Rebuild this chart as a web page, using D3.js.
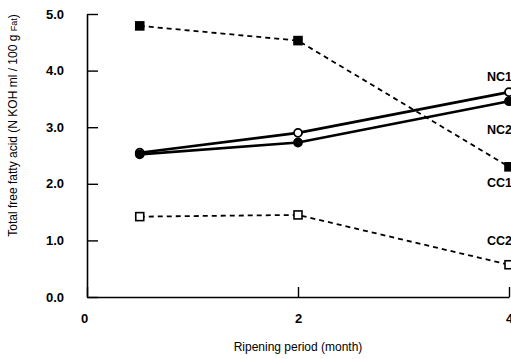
<html>
<head>
<script src="https://d3js.org/d3.v7.min.js"></script>
<style>
body { margin:0; background:#fff; }
text { font-family: "Liberation Sans", Arial, sans-serif; }
</style>
</head>
<body>
<script>
var width = 511;
var height = 359;
var margin = {top:14, right:2, bottom:62, left:87};
var w = width - margin.left - margin.right;
var h = height - margin.top - margin.bottom;

// data
var months = [0.5, 2, 4];
var NC1 = [2.55, 2.90, 3.62];
var NC2 = [2.52, 2.73, 3.46];
var CC1 = [4.79, 4.53, 2.30];
var CC2 = [1.42, 1.45, 0.57];
var xTicks = [0, 2, 4];
var yTicks = [0, 1, 2, 3, 4, 5];

var series = [
  {name:"NC1", values:NC1, dashed:false, marker:"circle", filled:false, labelY:81},
  {name:"NC2", values:NC2, dashed:false, marker:"circle", filled:true, labelY:134},
  {name:"CC1", values:CC1, dashed:true, marker:"square", filled:true, labelY:187},
  {name:"CC2", values:CC2, dashed:true, marker:"square", filled:false, labelY:245}
];

var x = d3.scaleLinear().domain([0,4]).range([0,w]);
var y = d3.scaleLinear().domain([0,5]).range([h,0]);

var svg = d3.select("body").append("svg")
    .attr("width", width)
    .attr("height", height)
  .append("g")
    .attr("transform", "translate(" + margin.left + "," + margin.top + ")");

// axes with inward ticks
var yAxis = svg.append("g")
    .call(d3.axisLeft(y).tickValues(yTicks).tickSizeInner(-11).tickSizeOuter(0)
      .tickPadding(23).tickFormat(d3.format(".1f")));
var xAxis = svg.append("g")
    .attr("transform", "translate(0," + h + ")")
    .call(d3.axisBottom(x).tickValues(xTicks).tickSizeInner(-10).tickSizeOuter(0)
      .tickPadding(17).tickFormat(d3.format("d")));
[yAxis, xAxis].forEach(function(a) {
  a.select(".domain").attr("stroke", "#000").attr("stroke-width", 1.6);
  a.selectAll(".tick line").attr("stroke", "#000").attr("stroke-width", 1.4);
  a.selectAll(".tick text").attr("fill", "#000")
    .style("font-size", "13px").style("font-weight", "bold")
    .style("font-family", "Liberation Sans, Arial, sans-serif");
});
xAxis.selectAll(".tick text").filter(function(d){ return d == 0; }).attr("dx", -3);

var line = d3.line()
    .x(function(d, i) { return x(months[i]); })
    .y(function(d) { return y(d); });

series.forEach(function(s) {
  svg.append("path")
    .datum(s.values)
    .attr("fill", "none")
    .attr("stroke", "#000")
    .attr("stroke-width", s.dashed ? 1.8 : 2.6)
    .attr("stroke-dasharray", s.dashed ? "5,4" : null)
    .attr("d", line);

  var g = svg.append("g");
  if (s.marker == "circle") {
    g.selectAll("circle").data(s.values).enter().append("circle")
      .attr("cx", function(d, i) { return x(months[i]); })
      .attr("cy", function(d) { return y(d); })
      .attr("r", 4)
      .attr("fill", s.filled ? "#000" : "#fff")
      .attr("stroke", "#000")
      .attr("stroke-width", 1.8);
  } else {
    g.selectAll("rect").data(s.values).enter().append("rect")
      .attr("x", function(d, i) { return x(months[i]) - 4; })
      .attr("y", function(d) { return y(d) - 4; })
      .attr("width", 8)
      .attr("height", 8)
      .attr("fill", s.filled ? "#000" : "#fff")
      .attr("stroke", "#000")
      .attr("stroke-width", 1.6);
  }

  svg.append("text")
    .attr("x", x(4) - 22)
    .attr("y", s.labelY - margin.top)
    .style("font-size", "12.5px")
    .style("font-weight", "bold")
    .text(s.name);
});

svg.append("text")
    .attr("x", x(2))
    .attr("y", h + 54)
    .attr("text-anchor", "middle")
    .style("font-size", "12px")
    .text("Ripening period (month)");

svg.append("text")
    .attr("transform", "translate(" + (-70) + "," + (h / 2 - 30) + ") rotate(-90)")
    .attr("text-anchor", "middle")
    .style("font-size", "12px")
    .html('Total free fatty acid (N KOH ml / 100 g <tspan style="font-size:9px">Fat</tspan>)');
</script>
</body>
</html>
